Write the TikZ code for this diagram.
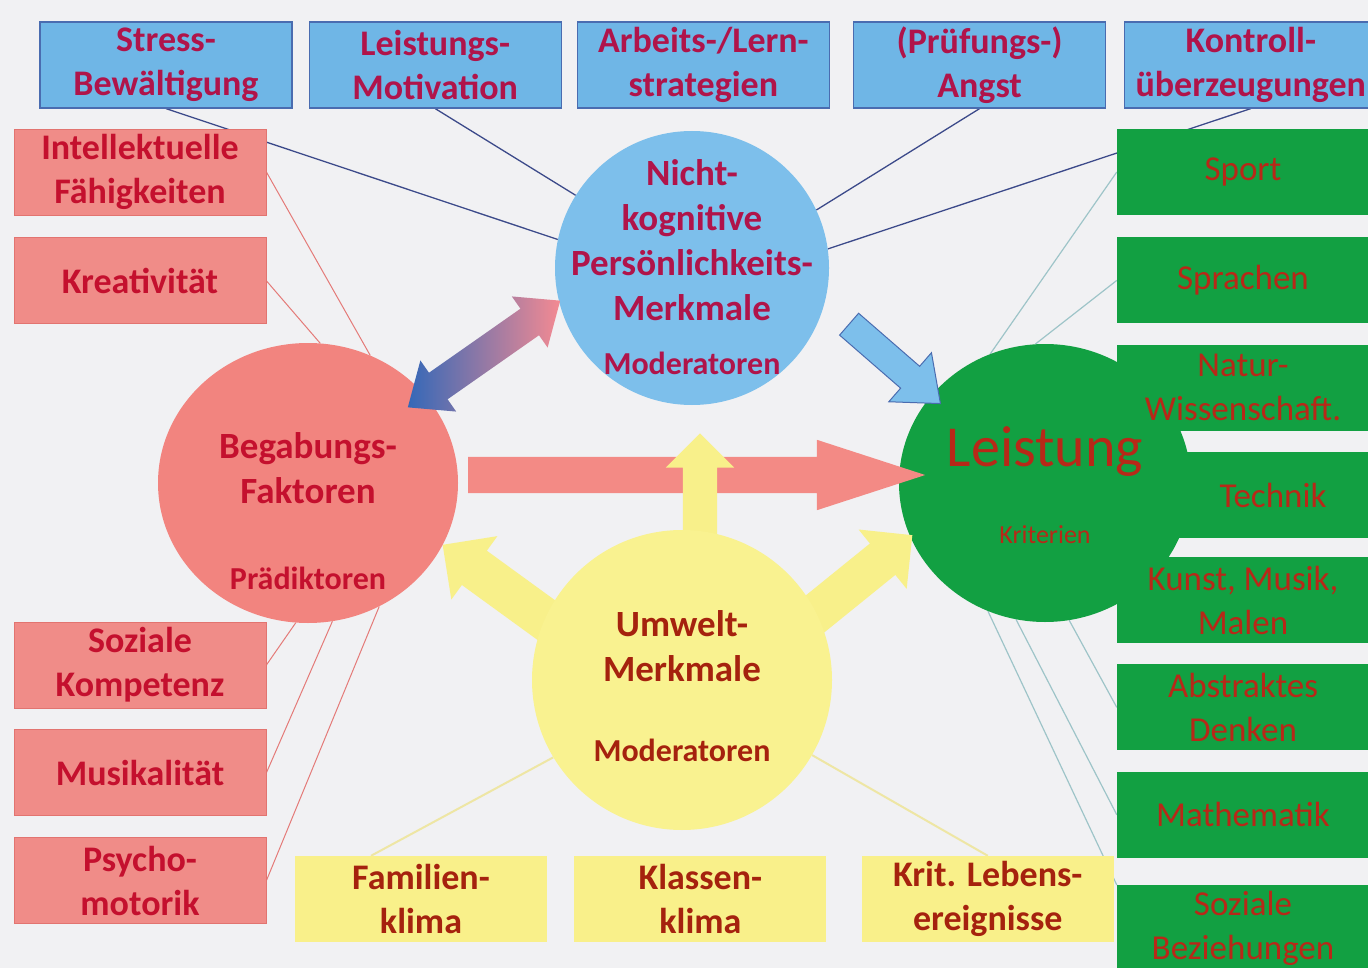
\documentclass[tikz,border=0pt]{standalone}
\usepackage{fontspec}
\setmainfont{Carlito}
\usetikzlibrary{positioning,shapes.geometric,shapes.arrows}

\pgfdeclarelayer{paper}
\pgfdeclarelayer{wires}
\pgfsetlayers{paper,wires,main}

\definecolor{paper}{HTML}{F1F1F3}
\definecolor{boxblue}{HTML}{6FB6E6}
\definecolor{edgeblue}{HTML}{4A6CB0}
\definecolor{ringblue}{HTML}{7DBFEB}
\definecolor{boxred}{HTML}{F08C88}
\definecolor{edgered}{HTML}{E27470}
\definecolor{ringred}{HTML}{F2847F}
\definecolor{boxgreen}{HTML}{12A042}
\definecolor{boxyellow}{HTML}{F9F08A}
\definecolor{ringyellow}{HTML}{F9F290}
\definecolor{arrred}{HTML}{F38A85}
\definecolor{arryellow}{HTML}{F8F08A}
\definecolor{arrblue}{HTML}{3468B8}
\definecolor{arrpink}{HTML}{F48A92}
\definecolor{txtblue}{HTML}{B0144A}
\definecolor{txtred}{HTML}{C4102E}
\definecolor{txtgreen}{HTML}{B82818}
\definecolor{txtyellow}{HTML}{A5220E}
\definecolor{linkblue}{HTML}{3C4A8A}
\definecolor{linkred}{HTML}{E47A78}
\definecolor{linkgreen}{HTML}{9EC4C8}
\definecolor{linkyellow}{HTML}{EEE6A4}

\tikzset{
  x=1pt,y=-1pt,
  lbl/.style={align=center,inner sep=0pt,font=\fontsize{36}{44}\selectfont\bfseries},
  pbox/.style={lbl,minimum width=252pt,minimum height=86pt},
  persbox/.style={pbox,draw=edgeblue,line width=1.2pt,fill=boxblue,text=txtblue},
  begbox/.style={pbox,draw=edgered,line width=0.8pt,fill=boxred,text=txtred},
  leibox/.style={pbox,fill=boxgreen,text=txtgreen,font=\fontsize{35}{44}\selectfont},
  umwbox/.style={pbox,fill=boxyellow,text=txtyellow},
  ring/.style={ellipse,inner sep=0pt},
  ctitle/.style={align=center,inner sep=0pt,font=\fontsize{37}{45}\selectfont\bfseries},
  csub/.style={inner sep=0pt,font=\fontsize{32}{38}\selectfont\bfseries},
  kline/.style={line width=1.3pt,linkblue},
  bline/.style={line width=1pt,linkred},
  lline/.style={line width=1.2pt,linkgreen},
  uline/.style={line width=2pt,linkyellow},
  fat/.style={single arrow,inner xsep=0pt,single arrow head indent=0pt},
  fat2/.style={double arrow,inner xsep=0pt,double arrow head indent=0pt},
}

\begin{document}
\begin{tikzpicture}
  \useasboundingbox (0,0) rectangle (1368,968);
  \begin{pgfonlayer}{paper}
    \fill[paper] (0,0) rectangle (1368,968);
  \end{pgfonlayer}
  \clip (0,0) rectangle (1368,968);

  % nicht-kognitive Persoenlichkeitsmerkmale (oben)
  \node[persbox] (stress) at (166,65) {Stress-\\Bewältigung};
  \node[persbox,right=16pt of stress] (motiv) {Leistungs-\\Motivation};
  \node[persbox,right=15pt of motiv] (lernstr) {Arbeits-/Lern-\\strategien};
  \node[persbox,right=23pt of lernstr] (angst) {(Prüfungs-)\\Angst};
  \node[persbox,right=18pt of angst] (kontr) {Kontroll-\\überzeugungen};

  % Begabungsfaktoren (links)
  \node[begbox] (intel) at (140,172) {Intellektuelle\\Fähigkeiten};
  \node[begbox,below=22pt of intel] (kreativ) {Kreativität};
  \node[begbox] (sozkomp) at (140,665) {Soziale\\Kompetenz};
  \node[begbox,below=21pt of sozkomp] (musik) {Musikalität};
  \node[begbox,below=21pt of musik] (psycho) {Psycho-\\motorik};

  % Leistungskreis hinter den Leistungsbereichen
  \node[ring,fill=boxgreen,minimum width=292pt,minimum height=278pt] (lei) at (1045,483) {};

  % Leistungsbereiche (rechts)
  \node[leibox] (sport) at (1243,172) {Sport};
  \node[leibox,below=22pt of sport] (sprach) {Sprachen};
  \node[leibox,below=21pt of sprach] (natur) {Natur-\\Wissenschaft.};
  \node[leibox,minimum width=192pt,below left=21pt and 0pt of natur.south east] (technik) {Technik};
  \node[leibox] (kunst) at (1243,600) {Kunst, Musik,\\Malen};
  \node[leibox,below=21pt of kunst] (abstr) {Abstraktes\\Denken};
  \node[leibox,below=21pt of abstr] (mathe) {Mathematik};
  \node[leibox,below=27pt of mathe] (sozbez) {Soziale\\Beziehungen};

  % Umweltmerkmale (unten)
  \node[umwbox] (famkl) at (421,899) {Familien-\\klima};
  \node[umwbox,right=27pt of famkl] (klaskl) {Klassen-\\klima};
  \node[umwbox,right=35pt of klaskl] (lebens) {Krit. Lebens-\\ereignisse};

  % dicke Pfeile und Kreise
  \node[fat,fill=arrred,anchor=tail,minimum height=457pt,inner ysep=18pt,
    single arrow head extend=17pt,single arrow tip angle=36] (predarr) at (468,475) {};
  \node[fat,fill=arryellow,rotate=90,minimum height=124pt,inner ysep=17pt,
    single arrow head extend=17pt] (envup) at (700,504) {};
  \node[fat,fill=arryellow,rotate=144,minimum height=170pt,inner ysep=21pt,
    single arrow head extend=18pt] (envleft) at (520,601) {};
  \node[fat,fill=arryellow,rotate=39,minimum height=135pt,inner ysep=20pt,
    single arrow head extend=18pt] (envright) at (852,584) {};

  \node[ring,fill=ringyellow,minimum width=300pt,minimum height=300pt] (umw) at (682,680) {};
  \node[ring,fill=ringblue,minimum width=274pt,minimum height=274pt] (nk) at (692,268) {};
  \node[ring,fill=ringred,minimum width=300pt,minimum height=280pt] (beg) at (308,483) {};

  \node[fat2,left color=arrblue,right color=arrpink,rotate=35,minimum height=186pt,
    inner ysep=16pt,double arrow head extend=15pt,double arrow tip angle=80] (linkarr) at (484,354) {};
  \node[fat,fill=ringblue,draw=edgeblue,line width=1pt,rotate=-41,minimum height=121pt,
    inner ysep=14pt,single arrow head extend=18pt,single arrow tip angle=78] (modarr) at (888,358) {};

  % Beschriftung der Kreise
  \node[ctitle,text=txtblue] (nk-t) at (692,240) {Nicht-\\kognitive\\Persönlichkeits-\\Merkmale};
  \node[csub,text=txtblue] (nk-s) at (692,363) {Moderatoren};
  \node[ctitle,text=txtred] (beg-t) at (308,468) {Begabungs-\\Faktoren};
  \node[csub,text=txtred] (beg-s) at (308,578) {Prädiktoren};
  \node[ctitle,text=txtyellow] (umw-t) at (682,646) {Umwelt-\\Merkmale};
  \node[csub,text=txtyellow] (umw-s) at (682,750) {Moderatoren};
  \node[inner sep=0pt,text=txtgreen,font=\fontsize{58}{60}\selectfont] (lei-t) at (1045,452) {Leistung};
  \node[inner sep=0pt,text=txtgreen,font=\fontsize{26}{30}\selectfont] (lei-s) at (1045,535) {Kriterien};

  % duenne Verbindungslinien
  \begin{pgfonlayer}{wires}
    \draw[kline] (stress.south) -- (nk.168);
    \draw[kline] (motiv.south) -- (nk.148);
    \draw[kline] (angst.south) -- (nk.25);
    \draw[kline] (kontr.south) -- (nk.8);
    \draw[bline] (intel.east) -- (beg.64);
    \draw[bline] (kreativ.east) -- (beg.85);
    \draw[bline] (sozkomp.east) -- (beg.265);
    \draw[bline] (musik.east) -- (beg.280);
    \draw[bline] (psycho.east) -- (beg.300);
    \draw[lline] (sport.west) -- (lei.113);
    \draw[lline] (sprach.west) -- (lei.94);
    \draw[lline] (lei.280) -- (abstr.west);
    \draw[lline] (lei.258) -- (mathe.west);
    \draw[lline] (lei.246) -- (sozbez.north west);
    \draw[uline] ([xshift=-50pt]famkl.north) -- (umw.211);
    \draw[uline] (lebens.north) -- (umw.330);
  \end{pgfonlayer}
\end{tikzpicture}
\end{document}
